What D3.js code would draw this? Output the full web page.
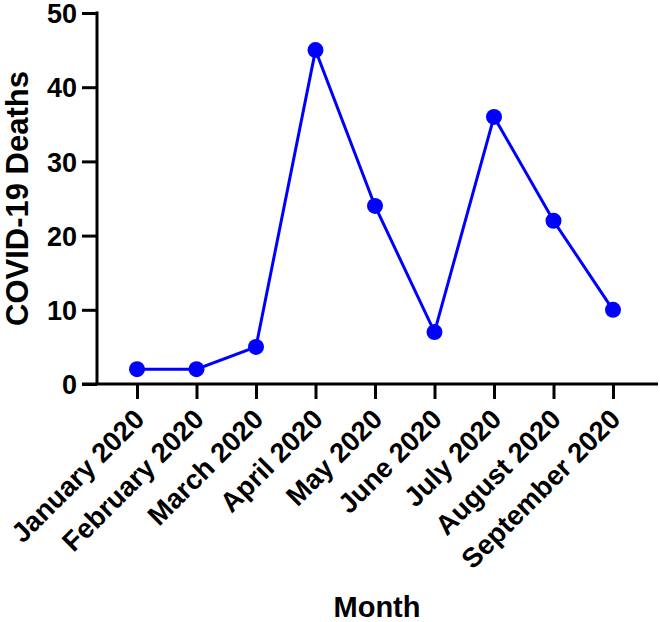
<!DOCTYPE html>
<html>
<head>
<meta charset="utf-8">
<script src="https://cdn.jsdelivr.net/npm/d3@7"></script>
<style>
  body { margin: 0; background: #fff; }
  svg { display: block; }
  text { font-family: "Liberation Sans", Arial, sans-serif; font-weight: bold; fill: #000; }
</style>
</head>
<body>
<svg id="chart" width="660" height="622"></svg>
<script>
const months = ["January 2020", "February 2020", "March 2020", "April 2020", "May 2020", "June 2020", "July 2020", "August 2020", "September 2020"];
const deaths = [2, 2, 5, 45, 24, 7, 36, 22, 10];
const yTicks = [0, 10, 20, 30, 40, 50];
const yTitle = "COVID-19 Deaths";
const xTitle = "Month";

const svg = d3.select("#chart");
const x = d3.scalePoint().domain(months).range([137, 613]);
const y = d3.scaleLinear().domain([0, 50]).range([384, 13]);

const axisColor = "#000";
const axisW = 3;

// y axis
const yAxisX = 97;
const yG = svg.append("g").attr("transform", `translate(${yAxisX},0)`)
  .call(d3.axisLeft(y).tickValues(yTicks).tickSize(15).tickSizeOuter(0).tickPadding(5));
yG.select(".domain").remove();
yG.selectAll(".tick line").attr("stroke", axisColor).attr("stroke-width", axisW);
yG.selectAll(".tick text").attr("dy", "0.36em").style("font-size", "27px").style("font-family", "Liberation Sans, Arial, sans-serif").style("font-weight", "bold");
svg.append("line").attr("x1", yAxisX).attr("x2", yAxisX).attr("y1", y(50) - 1.5).attr("y2", y(0))
  .attr("stroke", axisColor).attr("stroke-width", axisW);

// x axis
const xG = svg.append("g").attr("transform", `translate(0,${y(0)})`)
  .call(d3.axisBottom(x).tickSize(15).tickSizeOuter(0).tickFormat(""));
xG.select(".domain").remove();
xG.selectAll(".tick line").attr("stroke", axisColor).attr("stroke-width", axisW);
svg.append("line").attr("x1", 82).attr("x2", 658).attr("y1", y(0)).attr("y2", y(0))
  .attr("stroke", axisColor).attr("stroke-width", axisW);

svg.append("g").selectAll("text").data(months).join("text")
  .attr("transform", d => `translate(${x(d) + 9},${y(0) + 37}) rotate(-45)`)
  .attr("text-anchor", "end")
  .style("font-size", "27.5px")
  .text(d => d);

// line
svg.append("path").datum(deaths)
  .attr("fill", "none").attr("stroke", "#0000FF").attr("stroke-width", 3)
  .attr("d", d3.line().x((d, i) => x(months[i])).y(d => y(d)));
svg.append("g").selectAll("circle").data(deaths).join("circle")
  .attr("cx", (d, i) => x(months[i])).attr("cy", d => y(d)).attr("r", 8)
  .attr("fill", "#0000FF");

// titles
svg.append("text").attr("transform", `translate(28,${(y(0) + y(50)) / 2}) rotate(-90)`)
  .attr("text-anchor", "middle").style("font-size", "31px").text(yTitle);
svg.append("text").attr("x", 377).attr("y", 617).attr("text-anchor", "middle")
  .style("font-size", "29px").text(xTitle);
</script>
</body>
</html>
